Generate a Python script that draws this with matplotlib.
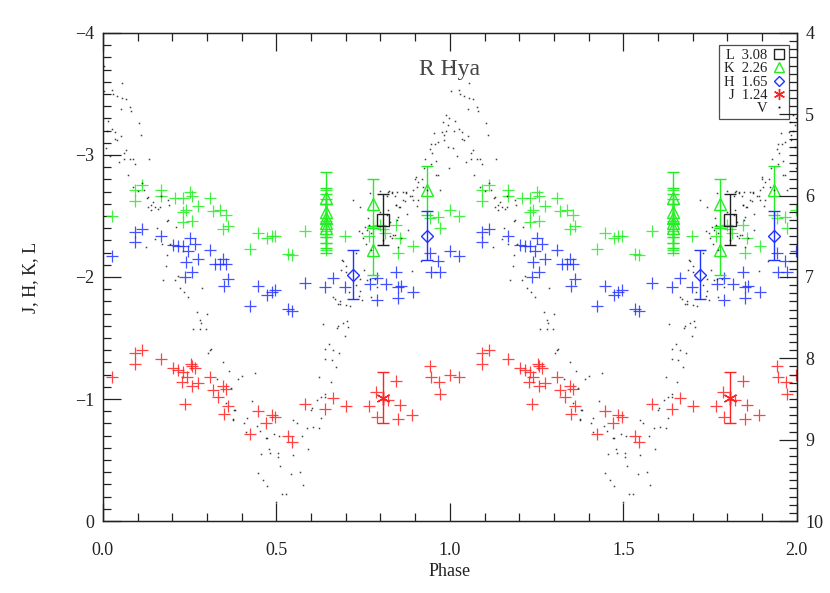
#Light curves of R Hya, J H K L (left) and V (right), folded over two cycles

import numpy as np
import matplotlib.pyplot as plt

plt.rcParams['font.family'] = ['Liberation Serif', 'DejaVu Serif']

'''---Data (phase, magnitude)---'''

#K band, single points
k_phase = [0.025, 0.092, 0.092, 0.114, 0.168, 0.168, 0.209, 0.230, 0.251, 0.258,
           0.239, 0.230, 0.275, 0.308, 0.318, 0.337, 0.356, 0.361, 0.347, 0.256,
           0.231, 0.448, 0.424, 0.472, 0.486, 0.496, 0.534, 0.544, 0.582, 0.644,
           0.644, 0.644, 0.644, 0.644, 0.644, 0.644, 0.697, 0.768, 0.779, 0.798,
           0.846, 0.851, 0.856, 0.894, 0.942, 0.966, 0.971, 0.999, 0.813, 0.808]
k_mag = [-2.50, -2.71, -2.62, -2.75, -2.71, -2.66, -2.65, -2.65, -2.70, -2.66,
         -2.55, -2.53, -2.58, -2.65, -2.54, -2.55, -2.51, -2.42, -2.39, -2.46,
         -2.45, -2.36, -2.23, -2.32, -2.34, -2.34, -2.19, -2.18, -2.38, -2.71,
         -2.60, -2.46, -2.38, -2.33, -2.28, -2.22, -2.34, -2.34, -2.40, -2.43,
         -2.43, -2.20, -2.32, -2.25, -2.48, -2.49, -2.40, -2.55, -2.36, -2.39]

#H band, single points
h_phase = [0.025, 0.092, 0.092, 0.114, 0.168, 0.203, 0.217, 0.231, 0.251, 0.265,
           0.246, 0.275, 0.239, 0.256, 0.236, 0.308, 0.323, 0.337, 0.356, 0.347,
           0.361, 0.349, 0.424, 0.448, 0.472, 0.486, 0.496, 0.534, 0.544, 0.582,
           0.640, 0.662, 0.697, 0.769, 0.789, 0.789, 0.817, 0.846, 0.851, 0.860,
           0.851, 0.894, 0.942, 0.966, 0.947, 0.971, 0.999]
h_mag = [-2.17, -2.37, -2.29, -2.39, -2.34, -2.26, -2.25, -2.25, -2.32, -2.27,
         -2.21, -2.15, -2.12, -2.04, -2.00, -2.22, -2.11, -2.11, -2.11, -2.15,
         -1.98, -1.93, -1.76, -1.93, -1.85, -1.88, -1.89, -1.74, -1.72, -1.95,
         -1.92, -1.99, -1.92, -1.94, -1.99, -1.81, -1.94, -2.04, -1.92, -1.93,
         -1.83, -1.88, -2.20, -2.13, -2.04, -2.04, -2.21]

#J band, single points
j_phase = [0.025, 0.092, 0.092, 0.114, 0.168, 0.203, 0.217, 0.231, 0.253, 0.265,
           0.241, 0.258, 0.227, 0.256, 0.273, 0.236, 0.308, 0.318, 0.332, 0.347,
           0.356, 0.361, 0.349, 0.424, 0.448, 0.470, 0.486, 0.496, 0.534, 0.544,
           0.582, 0.640, 0.662, 0.702, 0.768, 0.787, 0.789, 0.822, 0.846, 0.856,
           0.851, 0.892, 0.942, 0.947, 0.969, 0.971, 0.999]
j_mag = [-1.18, -1.38, -1.29, -1.40, -1.33, -1.25, -1.24, -1.22, -1.29, -1.25,
         -1.18, -1.27, -1.14, -1.11, -1.13, -0.96, -1.18, -1.07, -1.02, -1.11,
         -1.08, -0.94, -0.88, -0.71, -0.90, -0.80, -0.87, -0.85, -0.70, -0.65,
         -0.96, -0.92, -1.01, -0.94, -0.94, -1.06, -0.85, -0.99, -1.15, -0.95,
         -0.84, -0.87, -1.27, -1.18, -1.14, -1.04, -1.20]

#Points with error bars
kt_phase = [0.644, 0.644, 0.644, 0.644, 0.644, 0.779, 0.779, 0.935]
kt_mag = [-2.65, -2.53, -2.48, -2.44, -2.40, -2.60, -2.22, -2.71]
kt_err = [0.21, 0.2, 0.2, 0.2, 0.2, 0.2, 0.2, 0.2]

ht_phase = [0.721, 0.935]
ht_mag = [-2.02, -2.34]
ht_err = [0.2, 0.2]

jt_phase = [0.808]
jt_mag = [-1.01]
jt_err = [0.21]

l_phase = [0.808]
l_mag = [-2.47]
l_err = [0.21]

#V band
v_phase = [0.003, 0.056, 0.003, 0.025, 0.030, 0.041, 0.056, 0.066, 0.077, 0.051,
           0.082, 0.103, 0.014, 0.025, 0.011, 0.035, 0.109, 0.051, 0.035, 0.041,
           0.009, 0.066, 0.061, 0.020, 0.061, 0.078, 0.087, 0.133, 0.092, 0.046,
           0.071, 0.087, 0.113, 0.119, 0.102, 0.129, 0.145, 0.166, 0.129, 0.140,
           0.164, 0.191, 0.126, 0.138, 0.150, 0.123, 0.174, 0.188, 0.188, 0.222,
           0.246, 0.280, 0.299, 0.270, 0.260, 0.280, 0.297, 0.284, 0.311, 0.159,
           0.186, 0.212, 0.155, 0.150, 0.169, 0.193, 0.186, 0.181, 0.217, 0.207,
           0.233, 0.285, 0.302, 0.308, 0.347, 0.364, 0.390, 0.400, 0.438, 0.328,
           0.368, 0.380, 0.376, 0.414, 0.431, 0.412, 0.443, 0.472, 0.457, 0.505,
           0.448, 0.462, 0.472, 0.510, 0.515, 0.527, 0.499, 0.542, 0.548, 0.568,
           0.577, 0.592, 0.547, 0.558, 0.573, 0.587, 0.601, 0.616, 0.623, 0.630,
           0.606, 0.628, 0.640, 0.623, 0.640, 0.652, 0.664, 0.681, 0.640, 0.659,
           0.671, 0.656, 0.640, 0.633, 0.678, 0.693, 0.704, 0.707, 0.697, 0.683,
           0.702, 0.712, 0.604, 0.354, 0.378, 0.406, 0.452, 0.469, 0.494, 0.508,
           0.478, 0.483, 0.505, 0.374, 0.664, 0.683, 0.688, 0.702, 0.720, 0.710,
           0.741, 0.746, 0.755, 0.760, 0.765, 0.798, 0.818, 0.832, 0.841, 0.825,
           0.851, 0.856, 0.865, 0.875, 0.890, 0.904, 0.899, 0.909, 0.837, 0.827,
           0.808, 0.691, 0.686, 0.729, 0.700, 0.753, 0.741, 0.729, 0.741, 0.669,
           0.678, 0.675, 0.766, 0.760, 0.772, 0.750, 0.758, 0.774, 0.739, 0.844,
           0.854, 0.870, 0.877, 0.906, 0.841, 0.859, 0.832, 0.878, 0.851, 0.892,
           0.918, 0.769, 0.784, 0.789, 0.739, 0.746, 0.772, 0.848, 0.827, 0.818,
           0.822, 0.990, 0.998, 0.981, 0.995, 0.990, 0.978, 0.984, 0.954, 0.983,
           0.966, 0.947, 0.957, 0.942, 0.928, 0.949, 0.959, 0.945, 0.998, 0.965,
           0.926, 0.901, 0.921, 0.960, 0.971, 0.933, 0.909, 0.894, 0.923, 0.865,
           0.849, 0.873, 0.885, 0.894, 0.844, 0.798, 0.822, 0.832, 0.771, 0.995]
v_mag = [4.40, 4.61, 4.71, 4.70, 4.75, 4.78, 4.80, 4.81, 4.91, 4.93,
         4.96, 5.11, 5.08, 5.18, 5.20, 5.22, 5.25, 5.27, 5.30, 5.32,
         5.41, 5.44, 5.47, 5.51, 5.55, 5.55, 5.55, 5.55, 5.61, 5.59,
         5.74, 5.89, 5.84, 5.93, 5.94, 6.02, 6.08, 6.01, 6.14, 6.12,
         6.14, 6.12, 6.03, 6.18, 6.14, 6.63, 7.04, 6.05, 6.30, 7.14,
         7.24, 7.53, 7.45, 7.43, 7.64, 7.64, 7.64, 7.57, 7.89, 6.17,
         6.31, 6.39, 6.40, 6.53, 6.60, 6.59, 6.73, 6.87, 6.99, 7.04,
         7.19, 7.13, 7.94, 7.90, 8.05, 8.15, 8.25, 8.22, 8.18, 8.25,
         8.37, 8.64, 8.75, 8.73, 8.53, 8.91, 8.83, 8.98, 9.18, 9.17,
         9.41, 9.50, 9.57, 9.32, 9.67, 9.67, 9.77, 9.42, 9.19, 9.40,
         9.56, 9.12, 8.76, 8.80, 8.96, 8.86, 8.64, 8.51, 8.86, 8.73,
         8.85, 8.47, 8.47, 8.23, 7.88, 7.82, 7.90, 7.94, 8.01, 8.02,
         8.11, 8.29, 8.44, 7.58, 7.60, 7.57, 7.54, 7.61, 7.73, 7.33,
         7.34, 7.36, 8.61, 8.55, 8.64, 8.79, 8.89, 8.98, 8.93, 8.96,
         9.11, 9.17, 9.21, 8.76, 7.24, 7.30, 6.79, 6.87, 6.05, 7.18,
         6.14, 6.46, 6.38, 7.04, 6.28, 6.20, 6.01, 5.97, 6.01, 5.94,
         6.26, 6.14, 6.05, 5.97, 6.01, 5.89, 5.79, 6.05, 6.48, 6.50,
         6.55, 6.80, 6.91, 6.70, 6.94, 6.91, 7.03, 7.10, 7.17, 7.27,
         7.33, 7.63, 6.36, 6.42, 6.46, 6.52, 6.59, 6.67, 6.43, 6.11,
         6.14, 6.07, 6.23, 6.13, 6.48, 6.52, 6.52, 6.42, 6.63, 6.93,
         6.80, 7.02, 7.02, 7.12, 7.23, 7.28, 7.24, 6.30, 6.32, 6.24,
         6.18, 5.01, 5.04, 5.10, 5.13, 5.21, 5.22, 5.25, 5.23, 5.32,
         5.34, 5.37, 5.36, 5.43, 5.55, 5.47, 5.58, 5.61, 5.66, 5.75,
         5.66, 5.77, 5.80, 5.75, 5.93, 5.93, 5.83, 5.93, 5.89, 5.96,
         5.95, 5.96, 6.00, 6.05, 6.11, 5.94, 5.95, 5.95, 5.97, 5.40]

'''---Plot---'''
green = '#22ee22'
blue = '#2233ff'
red = '#ff2222'
grey = '#222222'

def two_cycles(ph, y):
    ph = np.asarray(ph)
    return np.concatenate([ph, ph + 1]), np.concatenate([y, y])

fig = plt.figure(figsize=(8.3, 5.93), dpi=100)
ax = fig.add_axes([0.124, 0.1214, 0.836, 0.823])
ax2 = ax.twinx()

#V dots on right axis
x, y = two_cycles(v_phase, v_mag)
ax2.plot(x, y, 's', color='k', ms=1.1, mew=0, alpha=0.75)

#crosses
for ph, m, c in [(k_phase, k_mag, green), (h_phase, h_mag, blue), (j_phase, j_mag, red)]:
    x, y = two_cycles(ph, m)
    ax.plot(x, y, '+', color=c, ms=9, mew=0.9, alpha=0.85)

#points with error bars
for ph, m, e, mk, c, ms in [(kt_phase, kt_mag, kt_err, '^', green, 9),
                            (ht_phase, ht_mag, ht_err, 'D', blue, 6.5),
                            (jt_phase, jt_mag, jt_err, (6, 2, 0), red, 10),
                            (l_phase, l_mag, l_err, 's', grey, 8)]:
    x, y = two_cycles(ph, m)
    ee = np.concatenate([e, e])
    ax.errorbar(x, y, yerr=ee, fmt='none', ecolor=c, elinewidth=1, capsize=4, capthick=1)
    ax.plot(x, y, ls='none', marker=mk, ms=ms, mfc='none', mec=c, mew=1)

ax.set_xlim(0, 2)
ax.set_ylim(0, -4)
ax2.set_ylim(10, 4)

ax.set_xticks(np.arange(0, 2.01, 0.5))
ax.set_xticklabels(['0.0', '0.5', '1.0', '1.5', '2.0'])
ax.set_xticks(np.arange(0, 2.01, 0.1), minor=True)
ax.set_yticks([0, -1, -2, -3, -4])
ax.set_yticks(np.arange(-4, 0.01, 0.1), minor=True)
ax2.set_yticks([4, 5, 6, 7, 8, 9, 10])
ax2.set_yticks(np.arange(4, 10.01, 0.1), minor=True)

for a in (ax, ax2):
    a.tick_params(which='both', direction='in', colors=grey, labelsize=13, width=0.9)
    a.tick_params(which='major', length=13, pad=6)
    a.tick_params(which='minor', length=6)
    for s in a.spines.values():
        s.set_color(grey)
        s.set_linewidth(0.9)
ax.tick_params(axis='x', which='both', top=True)
ax.tick_params(axis='x', which='major', pad=15)
ax2.tick_params(axis='y', which='both', labelcolor=grey)

ax.set_xlabel('Phase', fontsize=13, color=grey, labelpad=3)
ax.set_ylabel('J, H, K, L', fontsize=13, color=grey, labelpad=26)
ax.text(0.5, 0.926, 'R Hya', transform=ax.transAxes, ha='center', va='center',
        fontsize=17, color='#444444')

#legend, markers on the right
handles = [plt.Line2D([], [], ls='none', marker='s', ms=7, mfc='none', mec=grey),
           plt.Line2D([], [], ls='none', marker='^', ms=7, mfc='none', mec=green),
           plt.Line2D([], [], ls='none', marker='D', ms=5.5, mfc='none', mec=blue),
           plt.Line2D([], [], ls='none', marker=(6, 2, 0), ms=8, mec=red),
           plt.Line2D([], [], ls='none', marker='s', ms=1.3, mew=0, mfc='k')]
labels = ['L  3.08', 'K  2.26', 'H  1.65', 'J  1.24', 'V']
leg = ax.legend(handles, labels, loc='upper right', bbox_to_anchor=(0.989, 0.976),
                markerfirst=False, fontsize=10.5, frameon=True, fancybox=False,
                handlelength=0.8, handletextpad=0.4, labelspacing=0.0,
                borderpad=0.3, borderaxespad=0)
leg.get_frame().set_edgecolor(grey)
leg.get_frame().set_linewidth(0.9)
for t in leg.get_texts():
    t.set_color(grey)
    t.set_ha('right')

plt.savefig('out.png', dpi=100)
